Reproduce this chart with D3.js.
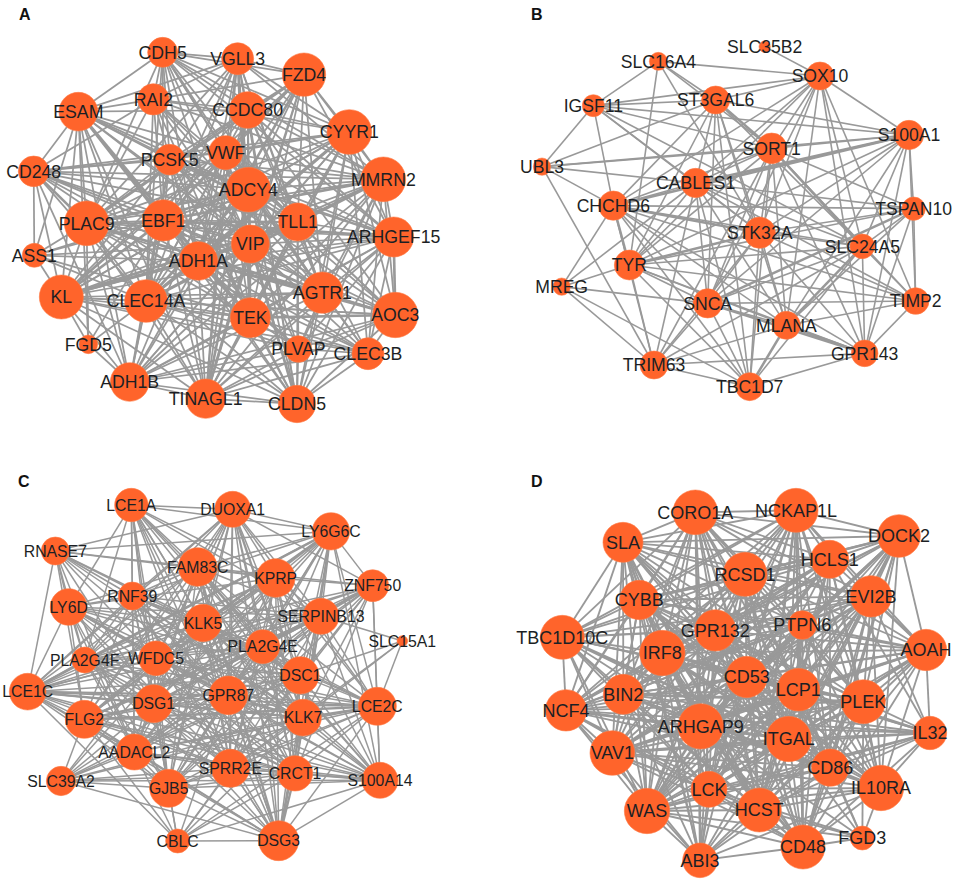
<!DOCTYPE html>
<html>
<head>
<meta charset="utf-8">
<script src="https://cdnjs.cloudflare.com/ajax/libs/d3/7.8.5/d3.min.js"></script>
<style>html,body{margin:0;padding:0;background:#fff}svg{display:block}</style>
</head>
<body>
<div id="chart"></div>
<script>
// Layout values, in reference-crop units (3 per page pixel).
const genesA = ["CDH5","VGLL3","FZD4","CYYR1","MMRN2","ARHGEF15","AOC3","CLEC3B","CLDN5","TINAGL1","ADH1B","FGD5","KL","ASS1","CD248","ESAM","RAI2","CCDC80","VWF","PCSK5","ADCY4","TLL1","VIP","EBF1","PLAC9","ADH1A","CLEC14A","TEK","AGTR1","PLVAP"];
const xA = [488,713,912,1048,1150,1181,1186,1104,891,617,389,265,184,103,101,235,460,743,677,509,745,893,751,490,260,595,438,751,967,895];
const yA = [157,176,224,396,538,711,945,1061,1212,1196,1146,1033,891,766,514,335,298,330,458,479,569,666,732,661,670,783,903,953,878,1047];
const degA = [45,48,65,67,67,60,68,48,56,59,58,28,66,36,46,58,47,55,51,46,67,57,57,62,67,58,64,60,62,40];
const onlyA = {
  ASS1:"CD248 ESAM PLAC9 KL CLEC14A EBF1 TEK ADH1A VIP ADCY4",
  FGD5:"KL ADH1B PLAC9 CLEC14A EBF1 ESAM",
  CD248:"ESAM ASS1 KL PLAC9 EBF1 PCSK5 ADCY4 VWF TLL1 ADH1A CLEC14A TEK AGTR1 MMRN2 CYYR1 ADH1B RAI2 VIP",
  CDH5:"ESAM RAI2 VGLL3 FZD4 CCDC80 VWF PCSK5 ADCY4 TLL1 EBF1 VIP ADH1A TEK CLEC14A MMRN2 CYYR1 AGTR1 ARHGEF15 PLAC9",
  CLEC3B:"AOC3 CLDN5 TINAGL1 PLVAP TEK AGTR1 ADH1A CLEC14A KL VIP TLL1 EBF1 ADCY4 ARHGEF15 MMRN2 CYYR1 ADH1B PLAC9",
  PLVAP:"CLEC3B AOC3 CLDN5 TINAGL1 TEK AGTR1 VIP ADH1A EBF1 CLEC14A KL ADCY4 TLL1 ARHGEF15 MMRN2",
  ADH1B:"KL FGD5 TINAGL1 CLDN5 CLEC14A PLAC9 EBF1 ADH1A TEK VIP AGTR1 TLL1 ADCY4 AOC3 CLEC3B CD248 ESAM PCSK5 VWF PLVAP CYYR1 MMRN2 ARHGEF15"
};
const absentA = ["VGLL3 KL","VGLL3 AOC3","FZD4 ESAM","FZD4 CLDN5","CYYR1 ESAM","MMRN2 ESAM","ARHGEF15 RAI2","ARHGEF15 VGLL3","AOC3 FZD4","AOC3 RAI2","AOC3 ESAM","CLDN5 RAI2","CLDN5 ESAM","TINAGL1 RAI2","KL RAI2","RAI2 PCSK5","RAI2 VWF","PCSK5 VWF","PCSK5 CCDC80","VWF ADCY4","TLL1 VIP","ADH1A VIP","TEK AGTR1","CCDC80 VWF","FZD4 CCDC80"];
const heavyA = ["MMRN2 EBF1","VIP TLL1","ADCY4 CLEC14A","KL EBF1","PLAC9 ADCY4","AOC3 ADH1A","ARHGEF15 AOC3","ESAM TEK","TINAGL1 VIP","CLDN5 VIP","FZD4 PLAC9","CYYR1 ADH1A","ESAM EBF1","TEK AOC3","CD248 PLAC9","KL TLL1","KL VIP","CLEC14A MMRN2","ARHGEF15 EBF1","AGTR1 PLAC9","VGLL3 TEK","FZD4 ADH1A","CYYR1 CLEC14A","TINAGL1 ADCY4"];

const genesB = ["SLC35B2","SOX10","S100A1","TSPAN10","TIMP2","GPR143","TBC1D7","TRIM63","MREG","UBL3","IGSF11","SLC16A4","ST3GAL6","SORT1","CABLES1","CHCHD6","STK32A","SLC24A5","TYR","SNCA","MLANA"];
const xB = [860,1026,1293,1307,1313,1160,815,528,251,192,346,541,713,881,653,406,845,1153,454,689,925];
const yB = [140,228,405,626,903,1060,1160,1095,860,500,317,184,300,445,549,617,698,739,795,910,976];
const degB = [17,42,44,35,40,40,42,42,26,26,33,27,42,46,44,44,47,37,45,44,42];
const linkRowsB = [
  "SLC35B2:SOX10",
  "SOX10:SLC16A4 IGSF11 ST3GAL6 S100A1 SORT1 CABLES1 CHCHD6 STK32A TYR SNCA MLANA SLC24A5 TIMP2 GPR143",
  "S100A1:IGSF11 ST3GAL6 SORT1 CABLES1 CHCHD6 STK32A SLC24A5 TYR SNCA MLANA TSPAN10 TIMP2 GPR143",
  "TSPAN10:TIMP2 SLC24A5 STK32A CHCHD6 CABLES1 TYR SNCA MLANA GPR143 SORT1",
  "TIMP2:SLC24A5 STK32A SORT1 TYR SNCA MLANA GPR143 CABLES1 CHCHD6",
  "GPR143:MLANA SNCA TYR STK32A SLC24A5 SORT1 TBC1D7 TRIM63 CHCHD6",
  "TBC1D7:MLANA SNCA TYR STK32A SLC24A5 TRIM63 MREG SORT1 CABLES1 CHCHD6 ST3GAL6",
  "TRIM63:MLANA SNCA TYR STK32A SLC24A5 MREG UBL3 SORT1 CABLES1 CHCHD6",
  "MREG:TYR CHCHD6 SNCA CABLES1",
  "UBL3:IGSF11 CHCHD6 ST3GAL6 SORT1 CABLES1 S100A1",
  "IGSF11:SLC16A4 ST3GAL6 CHCHD6 SORT1 CABLES1 STK32A SLC24A5",
  "SLC16A4:ST3GAL6 TYR STK32A SORT1",
  "ST3GAL6:SORT1 CABLES1 CHCHD6 STK32A TYR SNCA SLC24A5 MLANA",
  "SORT1:CABLES1 CHCHD6 STK32A TYR SNCA MLANA SLC24A5",
  "CABLES1:CHCHD6 STK32A TYR SNCA MLANA SLC24A5",
  "CHCHD6:STK32A TYR SNCA MLANA SLC24A5",
  "STK32A:TYR SNCA MLANA SLC24A5",
  "SLC24A5:TYR SNCA MLANA",
  "TYR:SNCA MLANA",
  "SNCA:MLANA"
];
const heavyB = ["TYR STK32A","CHCHD6 TYR","SORT1 SLC24A5","SNCA GPR143","MLANA TBC1D7","MLANA SLC24A5","S100A1 CABLES1","CHCHD6 STK32A","ST3GAL6 SORT1","TSPAN10 SNCA","S100A1 CHCHD6","MLANA GPR143"];

const genesC = ["LCE1A","DUOXA1","LY6G6C","ZNF750","SLC15A1","LCE2C","S100A14","DSG3","CBLC","SLC39A2","LCE1C","LY6D","RNASE7","RNF39","FAM83C","KPRP","SERPINB13","KLK5","PLA2G4E","PLA2G4F","WFDC5","DSC1","GPR87","DSG1","KLK7","FLG2","AADACL2","SPRR2E","CRCT1","GJB5"];
const xC = [394,698,993,1118,1207,1132,1140,836,533,183,83,206,166,397,593,827,963,609,788,254,468,901,685,461,909,253,403,691,885,506];
const yC = [192,205,271,434,600,796,1018,1199,1200,1020,752,498,330,465,378,411,526,546,617,657,652,703,763,788,830,835,933,982,997,1042];
const degC = [50,54,56,48,16,57,54,60,36,44,55,55,42,42,58,58,54,56,51,39,52,56,58,57,55,57,54,57,53,57];
const onlyC = {
  SLC15A1:"LCE2C KLK7 DSC1 SERPINB13 SPRR2E",
  CBLC:"DSG3 SPRR2E CRCT1 GJB5 AADACL2 FLG2 KLK7 DSC1 LCE2C GPR87 DSG1 LCE1C S100A14",
  SLC39A2:"GJB5 AADACL2 FLG2 DSG1 WFDC5 GPR87 KLK5 SPRR2E CRCT1 S100A14 LCE2C DSG3 KLK7 DSC1 PLA2G4E",
  RNASE7:"LCE1C LY6D RNF39 KPRP LY6G6C FAM83C KLK5 WFDC5 DSG1 GPR87 DSC1 KLK7 FLG2 PLA2G4F AADACL2 DUOXA1",
  ZNF750:"LY6G6C SERPINB13 KPRP FAM83C DUOXA1 LCE2C S100A14 KLK7 DSC1 CRCT1 SPRR2E GPR87 DSG1 WFDC5 AADACL2 FLG2 LCE1C GJB5 KLK5 PLA2G4E"
};
const absentC = ["LCE1A LCE1C","LCE1A FLG2","LCE1A S100A14","LCE1A LCE2C","DUOXA1 LY6D","DUOXA1 S100A14","LY6G6C LY6D","DSG3 LY6D","S100A14 LY6D","LCE2C LY6D","RNF39 KPRP","KLK5 FAM83C","DSC1 KLK7","GPR87 DSG1","PLA2G4F FLG2"];
const heavyC = ["LY6G6C LCE1C","LCE2C FLG2","LCE1C KLK7","LY6G6C KLK5","KLK7 LCE2C","LCE1C GPR87","ZNF750 DSG1","CRCT1 S100A14","DSG3 CRCT1","LY6D GPR87","SERPINB13 FLG2","DUOXA1 KLK7","FAM83C DSG3"];

const genesD = ["CORO1A","NCKAP1L","DOCK2","HCLS1","SLA","RCSD1","EVI2B","CYBB","PTPN6","GPR132","TBC1D10C","AOAH","IRF8","CD53","LCP1","BIN2","NCF4","PLEK","IL32","ARHGAP9","ITGAL","VAV1","CD86","IL10RA","LCK","WAS","HCST","FGD3","CD48","ABI3"];
const xD = [652,954,1263,1055,435,801,1179,484,973,712,253,1344,553,806,961,436,264,1156,1356,668,932,403,1057,1209,693,507,844,1153,975,666];
const yD = [214,208,285,355,304,400,466,477,552,568,589,627,636,708,746,760,808,782,876,856,894,936,980,1041,1045,1110,1107,1191,1218,1258];
const degD = [67,66,64,57,60,66,62,59,43,62,66,62,68,62,64,60,62,66,50,68,68,67,56,68,54,68,66,36,66,52];
const onlyD = {
  FGD3:"IL10RA CD48 HCST CD86 ITGAL LCP1 ARHGAP9 LCK PLEK WAS",
  IL32:"IL10RA AOAH PLEK EVI2B ITGAL CD86 LCP1 ARHGAP9 CD53 HCST WAS VAV1 NCF4 BIN2 IRF8 HCLS1 LCK CD48",
  ABI3:"WAS LCK HCST CD48 ARHGAP9 ITGAL VAV1 CD86 IL10RA SLA CORO1A RCSD1 NCF4 BIN2 IRF8 CYBB LCP1 CD53 GPR132 PLEK"
};
const absentD = ["TBC1D10C AOAH","TBC1D10C IL10RA","TBC1D10C CD48","TBC1D10C DOCK2","SLA AOAH","SLA CD48","CORO1A IL10RA","NCKAP1L VAV1","DOCK2 NCF4","DOCK2 VAV1","AOAH NCF4","IL10RA NCF4","PTPN6 EVI2B","PTPN6 HCLS1","PTPN6 RCSD1","PTPN6 GPR132","GPR132 IRF8","IRF8 CYBB","LCP1 CD53","HCLS1 EVI2B"];
const heavyD = ["WAS ARHGAP9","VAV1 ITGAL","DOCK2 ARHGAP9","NCF4 ITGAL","AOAH ITGAL","IRF8 HCST","SLA HCST","EVI2B VAV1","WAS LCP1","NCKAP1L HCST","CD48 ARHGAP9","IL10RA ARHGAP9","TBC1D10C ITGAL","DOCK2 RCSD1","PLEK BIN2","LCP1 VAV1","IRF8 ITGAL"];

const panelLetters = ["A","B","C","D"];
const letterXs = [19,531,18,531];
const letterYs = [20,20,487,487];
const panelXs = [0,478,0,478];
const panelYs = [0,0,441,441];
const labelSizes = [17.7,17.6,15.8,18];
const edgeWidths = [1.75,1.6,1.5,1.85];

const W = 957, H = 882;
const svg = d3.select("#chart").append("svg").attr("width",W).attr("height",H).attr("viewBox",`0 0 ${W} ${H}`);
const unit = d3.scaleLinear().domain([0,1434]).range([0,478]);

function denseLinks(genes, only, absent){
  const off = new Set(absent.map(s=>s.split(" ").sort().join(" ")));
  const has = (a,b)=> only[a] && only[a].split(" ").includes(b);
  const out = [];
  genes.forEach((a,i)=>genes.slice(i+1).forEach(b=>{
    if(off.has([a,b].sort().join(" "))) return;
    if((only[a]||only[b]) && !(has(a,b)||has(b,a))) return;
    out.push([a,b]);
  }));
  return out;
}
function rowLinks(rows){
  const out=[];
  rows.forEach(r=>{const [s,t]=r.split(":");t.split(" ").forEach(x=>out.push([s,x]));});
  return out;
}
const panels = [
  {genes:genesA,x:xA,y:yA,deg:degA,links:denseLinks(genesA,onlyA,absentA),heavy:heavyA},
  {genes:genesB,x:xB,y:yB,deg:degB,links:rowLinks(linkRowsB),heavy:heavyB},
  {genes:genesC,x:xC,y:yC,deg:degC,links:denseLinks(genesC,onlyC,absentC),heavy:heavyC},
  {genes:genesD,x:xD,y:yD,deg:degD,links:denseLinks(genesD,onlyD,absentD),heavy:heavyD}
];

panels.forEach((p,k)=>{
  const g = svg.append("g").attr("transform",`translate(${panelXs[k]},${panelYs[k]})`);
  const idx = new Map(p.genes.map((n,i)=>[n,i]));
  const heavy = new Set(p.heavy.map(s=>s.split(" ").sort().join(" ")));
  g.append("g").selectAll("line").data(p.links).join("line")
    .attr("x1",d=>unit(p.x[idx.get(d[0])])).attr("y1",d=>unit(p.y[idx.get(d[0])]))
    .attr("x2",d=>unit(p.x[idx.get(d[1])])).attr("y2",d=>unit(p.y[idx.get(d[1])]))
    .attr("stroke","#999999")
    .attr("stroke-width",d=>heavy.has([...d].sort().join(" "))?edgeWidths[k]+0.9:edgeWidths[k]);
  g.append("g").selectAll("circle").data(p.genes).join("circle")
    .attr("cx",(d,i)=>unit(p.x[i])).attr("cy",(d,i)=>unit(p.y[i])).attr("r",(d,i)=>unit(p.deg[i]))
    .attr("fill","#FF642B").attr("stroke","#FF7A45").attr("stroke-width",0.6);
  g.append("g").selectAll("text").data(p.genes).join("text")
    .attr("x",(d,i)=>unit(p.x[i])).attr("y",(d,i)=>unit(p.y[i]))
    .attr("dy","0.36em").attr("text-anchor","middle")
    .attr("font-family","'Liberation Sans',Arial,sans-serif")
    .attr("font-size",labelSizes[k]).attr("fill","#1c1f24").text(d=>d);
  svg.append("text").attr("x",letterXs[k]).attr("y",letterYs[k])
    .attr("font-family","'Liberation Sans',Arial,sans-serif").attr("font-weight","bold")
    .attr("font-size",16).attr("fill","#111").text(panelLetters[k]);
});
</script>
</body>
</html>
